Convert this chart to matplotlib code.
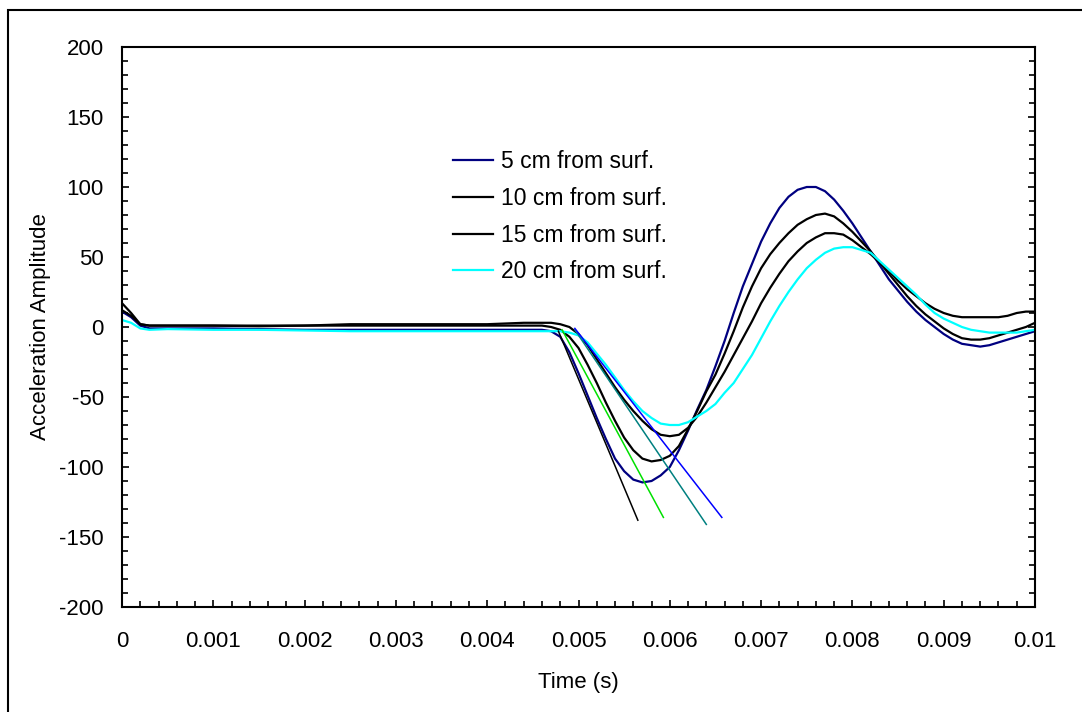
import matplotlib
matplotlib.use('Agg')
import matplotlib.pyplot as plt
from matplotlib.patches import Rectangle
from matplotlib.ticker import MultipleLocator
import numpy as np

plt.rcParams['font.family'] = ['Liberation Sans', 'DejaVu Sans']
plt.rcParams['axes.unicode_minus'] = False

# sample times in ms
time_ms = [0, 0.1, 0.2, 0.3, 0.5, 1.0, 1.5, 2.0, 2.5, 3.0, 3.5, 4.0, 4.4, 4.6,
           4.7, 4.8, 4.9, 5.0, 5.1, 5.2, 5.3, 5.4, 5.5, 5.6, 5.7, 5.8, 5.9,
           6.0, 6.1, 6.2, 6.3, 6.4, 6.5, 6.6, 6.7, 6.8, 6.9, 7.0, 7.1, 7.2,
           7.3, 7.4, 7.5, 7.6, 7.7, 7.8, 7.9, 8.0, 8.1, 8.2, 8.3, 8.4, 8.5,
           8.6, 8.7, 8.8, 8.9, 9.0, 9.1, 9.2, 9.3, 9.4, 9.5, 9.6, 9.7, 9.8,
           9.9, 10.0]

acc_5cm = [11, 7, 1, -1, -1, -1, -1.5, -2, -2, -2, -2, -2, -2, -2,
           -3, -7, -18, -33, -49, -65, -80, -94, -103, -109, -111, -110, -106,
           -100, -88, -74, -59, -45, -28, -10, 10, 29, 45, 61, 74, 85,
           93, 98, 100, 100, 97, 91, 83, 74, 64, 54, 44, 34, 26,
           18, 11, 5, 0, -5, -9, -12, -13, -14, -13, -11, -9, -7,
           -5, -3]

acc_10cm = [12, 8, 2, 1, 1, 1, 0.5, 1, 1, 1, 1, 1, 1, 1,
            0, -2, -7, -15, -27, -40, -54, -67, -79, -88, -94, -96, -95,
            -92, -85, -73, -60, -46, -34, -19, -3, 14, 29, 42, 52, 60,
            67, 73, 77, 80, 81, 79, 74, 68, 61, 54, 46, 38, 30,
            22, 15, 9, 4, -1, -5, -8, -9, -9, -8, -6, -4, -2,
            0, 3]

acc_15cm = [17, 10, 2, 1, 1, 1, 1, 1, 2, 2, 2, 2, 3, 3,
            3, 2, 0, -5, -13, -23, -33, -43, -52, -60, -67, -73, -77,
            -78, -77, -72, -64, -54, -43, -32, -20, -8, 4, 17, 28, 38,
            47, 54, 60, 64, 67, 67, 66, 62, 57, 52, 46, 40, 33,
            27, 22, 17, 13, 10, 8, 7, 7, 7, 7, 7, 8, 10,
            11, 11]

acc_20cm = [5, 3, -1, -2, -1.5, -2, -2, -2.5, -3, -3, -3, -3, -3, -3,
            -3, -3, -4, -6, -11, -19, -27, -36, -45, -53, -60, -65, -69,
            -70, -70, -68, -64, -60, -55, -47, -40, -30, -20, -8, 4, 15,
            25, 34, 42, 48, 53, 56, 57, 57, 55, 53, 47, 41, 35,
            29, 23, 16, 10, 6, 3, 0, -2, -3, -4, -4, -4, -4,
            -3, -2]

labels = ['5 cm from surf.', '10 cm from surf.', '15 cm from surf.',
          '20 cm from surf.']
colors = ['#000080', 'black', 'black', '#00ffff']

# slope lines fitted to the falling edges (start/end in ms and amplitude)
fit_t0 = [4.78, 4.82, 4.96, 4.96]
fit_y0 = [-3, -2, -2, -1]
fit_t1 = [5.65, 5.93, 6.40, 6.57]
fit_y1 = [-138, -136, -141, -136]
fit_colors = ['black', '#00e000', '#008080', '#0000ff']

xtick_labels = ['0', '0.001', '0.002', '0.003', '0.004', '0.005', '0.006',
                '0.007', '0.008', '0.009', '0.01']


def main():
    fig = plt.figure(figsize=(10.82, 7.12), dpi=100)
    ax = fig.add_axes([122/1082, 1 - 607/712, 913/1082, 560/712])

    t = np.array(time_ms) / 1000.0
    series = [acc_5cm, acc_10cm, acc_15cm, acc_20cm]
    for vals, lab, c in zip(series, labels, colors):
        ax.plot(t, vals, color=c, lw=1.6, label=lab)

    for i in range(len(fit_t0)):
        ax.plot([fit_t0[i] / 1000.0, fit_t1[i] / 1000.0],
                [fit_y0[i], fit_y1[i]], color=fit_colors[i], lw=1.1)

    ax.set_xlim(0, 0.01)
    ax.set_ylim(-200, 200)
    ax.set_xticks(np.arange(11) * 0.001)
    ax.set_xticklabels(xtick_labels)
    ax.set_yticks(np.arange(-200, 201, 50))
    ax.xaxis.set_minor_locator(MultipleLocator(0.0002))
    ax.yaxis.set_minor_locator(MultipleLocator(10))
    ax.tick_params(which='both', direction='in', top=False, right=True,
                   labelsize=16, width=1.2)
    ax.tick_params(axis='x', which='major', length=5, pad=17)
    ax.tick_params(axis='y', which='major', length=5, pad=13)
    ax.tick_params(which='minor', length=4)
    for sp in ax.spines.values():
        sp.set_linewidth(1.5)

    ax.set_xlabel('Time (s)', fontsize=16, labelpad=15)
    ax.set_ylabel('Acceleration Amplitude', fontsize=16, labelpad=6)

    handles, labs = ax.get_legend_handles_labels()
    ax.legend(handles[:4], labs[:4], loc='upper left',
              bbox_to_anchor=(322/913, 1 - 94/560), frameon=False,
              fontsize=16.5, handlelength=1.75, handletextpad=0.35,
              labelspacing=0.6, borderaxespad=0)

    # outer frame of the chart object
    fig.patches.append(Rectangle((8/1082, -0.5), 2, 1.5 - 10/712,
                                 transform=fig.transFigure, fill=False,
                                 lw=1.5, ec='black'))

    fig.savefig('out.png', dpi=100)


if __name__ == '__main__':
    main()
